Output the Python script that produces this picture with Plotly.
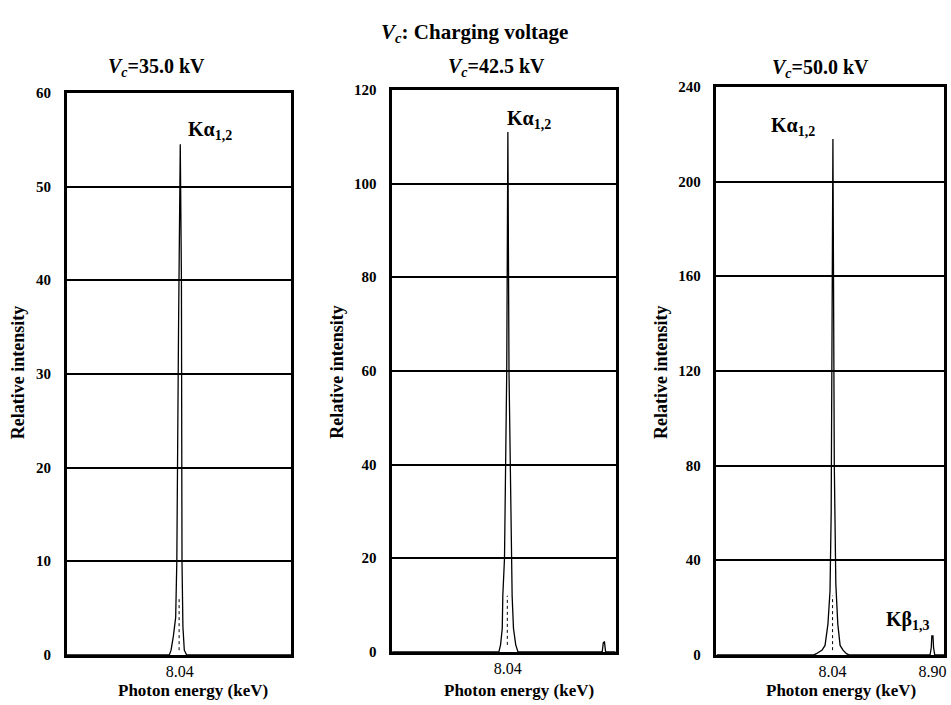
import plotly.graph_objects as go

W, H = 951, 705

# ---- data ----
titles = ["35.0", "42.5", "50.0"]
y_max = [60, 120, 240]
y_dtick = [10, 20, 40]
x_ranges = [[7.06, 9.01], [7.01, 9.0], [7.04, 9.0]]
x_tickvals = [[8.04], [8.04], [8.04, 8.90]]
x_ticktext = [["8.04"], ["8.04"], ["8.04", "8.90"]]

e1 = [7.06, 7.95, 7.965, 7.985, 8.005, 8.015, 8.03, 8.045, 8.055, 8.06, 8.068, 8.08, 8.10, 9.01]
i1 = [0, 0, 0.5, 2, 4, 10, 35, 54.5, 40, 10, 3, 0.5, 0, 0]

e2 = [7.01, 7.96, 7.975, 7.99, 7.995, 8.01, 8.03, 8.04, 8.05, 8.07, 8.078, 8.09, 8.11, 8.13,
      8.88, 8.89, 8.90, 8.91, 9.0]
i2 = [0, 0, 1.5, 5, 12, 20, 60, 111, 60, 20, 12, 5, 1.5, 0, 0, 2, 2.1, 0, 0]

e3 = [7.04, 7.88, 7.90, 7.95, 7.975, 8.0, 8.018, 8.028, 8.043, 8.055, 8.068, 8.085, 8.105,
      8.13, 8.16, 8.18, 8.88, 8.89, 8.895, 8.905, 8.91, 8.92, 9.0]
i3 = [0, 0, 0.5, 2, 4, 13, 27, 60, 218, 80, 30, 13, 4, 2, 0.5, 0, 0, 3, 8, 8, 3, 0, 0]

# inner dotted traces
d_e = [[8.035, 8.035], [8.035, 8.035], [8.04, 8.04]]
d_i = [[0.5, 6], [1.5, 12], [2, 25]]

energies = [e1, e2, e3]
intens = [i1, i2, i3]

# ---- layout in screen pixels ----
px_x = [(67, 292), (393, 617), (718, 946)]
px_y = [(92, 655), (89, 652), (86, 655)]


def X(p):
    return p / W


def Y(p):
    f = (p - 7) / 0.979
    return 1 - f / H


fig = go.Figure()
serif = "Liberation Serif"

for k in range(3):
    xa = "x" if k == 0 else f"x{k+1}"
    ya = "y" if k == 0 else f"y{k+1}"
    fig.add_trace(go.Scatter(x=energies[k], y=intens[k], mode="lines",
                             line=dict(color="black", width=1.3),
                             xaxis=xa, yaxis=ya, showlegend=False))
    fig.add_trace(go.Scatter(x=d_e[k], y=d_i[k], mode="lines",
                             line=dict(color="black", width=1, dash="dot"),
                             xaxis=xa, yaxis=ya, showlegend=False))
    axname = "" if k == 0 else str(k + 1)
    fig.update_layout(**{
        f"xaxis{axname}": dict(
            domain=[X(px_x[k][0]), X(px_x[k][1])], range=x_ranges[k],
            anchor=ya, showgrid=False, zeroline=False,
            showline=True, linecolor="black", linewidth=2.5, mirror=True,
            tickmode="array", tickvals=x_tickvals[k], ticktext=x_ticktext[k],
            ticks="", ticklabelstandoff=0,
            tickfont=dict(family=serif, size=16, color="black"),
        ),
        f"yaxis{axname}": dict(
            domain=[Y(px_y[k][1]), Y(px_y[k][0])], range=[0, y_max[k]],
            anchor=xa, dtick=y_dtick[k], showgrid=True, gridcolor="black",
            gridwidth=1.5, zeroline=False,
            showline=True, linecolor="black", linewidth=2.5, mirror=True,
            ticks="", ticklabelstandoff=10,
            tickfont=dict(family=serif, size=15, color="black", weight="bold"),
        ),
    })

ann = []


def add_text(px, py, text, size, angle=0):
    ann.append(dict(x=X(px), y=Y(py), xref="paper", yref="paper", showarrow=False,
                    xanchor="center", yanchor="middle", text=text, textangle=angle,
                    font=dict(family=serif, size=size, color="black")))


# main title
add_text(475, 32, "<b><i>V<sub>c</sub></i>: Charging voltage</b>", 21)
sub_cx = [(157, 67), (498, 67), (822, 68)]
for k in range(3):
    add_text(sub_cx[k][0], sub_cx[k][1], f"<b><i>V<sub>c</sub></i>={titles[k]} kV</b>", 20)
# y titles
ytx = [18, 338, 663]
for k in range(3):
    add_text(ytx[k], 372, "<b>Relative intensity</b>", 18, -90)
# x titles
xtx = [193, 520, 843]
for k in range(3):
    add_text(xtx[k], 691, "<b>Photon energy (keV)</b>", 17)
# peak labels
ka = [(210, 130), (530, 119), (795, 126)]
for k in range(3):
    add_text(ka[k][0], ka[k][1], "<b>Kα<sub>1,2</sub></b>", 20)
add_text(910, 621, "<b>Kβ<sub>1,3</sub></b>", 20)

fig.update_layout(width=W, height=H, margin=dict(l=0, r=0, t=0, b=0),
                  paper_bgcolor="white", plot_bgcolor="white",
                  annotations=ann, showlegend=False)

fig.write_html(
    "out.html",
    config={"displayModeBar": False},
    post_script="document.body.style.margin='0px';"
                "document.documentElement.style.overflow='hidden';",
)
